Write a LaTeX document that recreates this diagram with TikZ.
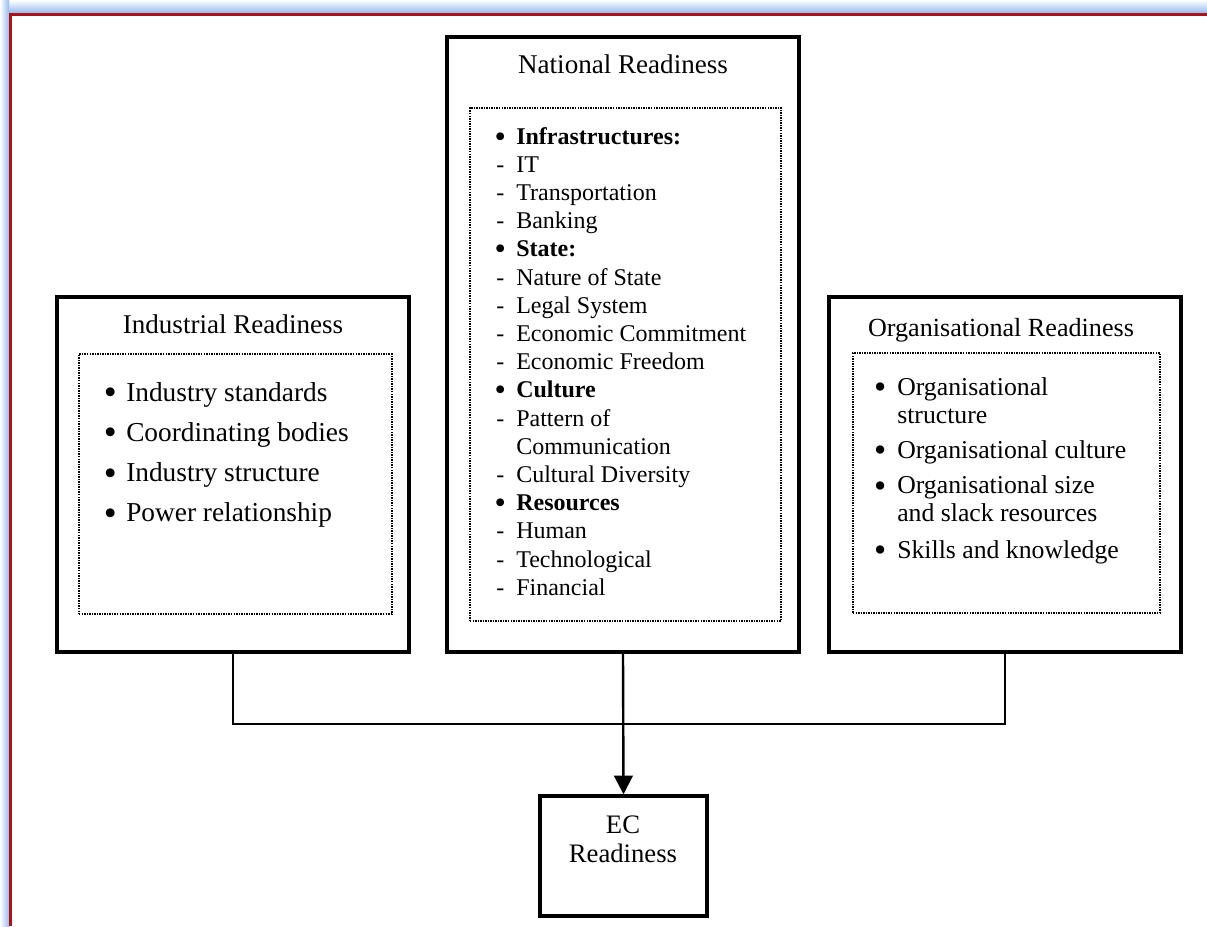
\documentclass[tikz,border=0pt]{standalone}
\usepackage{fontspec}
\setmainfont{Liberation Serif}
\usetikzlibrary{arrows.meta,shadings}

\definecolor{glowblue}{RGB}{150,185,240}
\definecolor{framered}{RGB}{170,20,25}

\tikzset{
  outerbox/.style={draw=black, line width=2.6pt, fill=white, inner sep=0pt},
  innerbox/.style={draw=black, line width=2pt, dash pattern=on 1.1pt off 0.8pt, inner sep=0pt},
  title/.style={anchor=base, inner sep=0pt, font=\fontsize{20.3}{24}\selectfont},
  listtext/.style={anchor=base west, inner sep=0pt},
  link/.style={line width=1.8pt, line join=miter},
  arrowlink/.style={link, -{Triangle[width=14pt,length=14pt]}},
}

% list markers: a bold bullet or a dash, centred in a fixed-width box
\newcommand\bigdot{\raisebox{-0.13em}{\scalebox{1.35}{\textbullet}}}
\newcommand\nmark[1]{\makebox[24pt][c]{#1}}
\newcommand\imark[1]{\makebox[24pt][c]{#1}}
\newcommand\omark[1]{\makebox[25.5pt][c]{#1}}

\begin{document}
\begin{tikzpicture}[x=0.75pt, y=-0.75pt]
  \useasboundingbox (0,0) rectangle (1207,926);
  \fill[white] (0,0) rectangle (1207,926);

  % window frame: soft blue glow and red rule along the top and left
  \shade[top color=white, bottom color=glowblue] (0,0) rectangle (1207,13);
  \shade[left color=white, right color=glowblue] (0,0) rectangle (9,926);
  \draw[framered, line width=1.9pt] (10.5,926) -- (10.5,14.5) -- (1207,14.5);

  % outer boxes
  \node[outerbox, minimum width=264pt, minimum height=461.25pt] (nat) at (623,344.5) {};
  \node[outerbox, minimum width=264pt, minimum height=266.25pt] (ind) at (233,474.5) {};
  \node[outerbox, minimum width=264pt, minimum height=266.25pt] (org) at (1005,474.5) {};
  \node[outerbox, minimum width=125.25pt, minimum height=90pt] (ec) at (623.5,856) {};

  % dotted inner frames
  \node[innerbox, minimum width=233.25pt, minimum height=384.75pt] (natin) at (625.5,364.5) {};
  \node[innerbox, minimum width=234.75pt, minimum height=195pt] (indin) at (235.5,484) {};
  \node[innerbox, minimum width=230.25pt, minimum height=195pt] (orgin) at (1006.5,483) {};

  % titles
  \node[title] (nattitle) at (623,73) {National Readiness};
  \node[title] (indtitle) at (233,333) {Industrial Readiness};
  \node[title, font=\fontsize{19.6}{24}\selectfont] (orgtitle) at (1001,336) {Organisational Readiness};
  \node[anchor=base, inner sep=0pt, font=\fontsize{20}{24}\selectfont] (ectext1) at (623,833) {EC};
  \node[anchor=base, inner sep=0pt, font=\fontsize{20}{24}\selectfont] (ectext2) at (623,862) {Readiness};

  % national list
  \node[listtext] (natlist) at (484,144) {%
    \begin{minipage}[t]{230pt}\fontsize{18}{21.15}\selectfont\parindent=0pt
      \nmark{\bigdot}\textbf{Infrastructures:}\par
      \nmark{-}IT\par
      \nmark{-}Transportation\par
      \nmark{-}Banking\par
      \nmark{\bigdot}\textbf{State:}\par
      \nmark{-}Nature of State\par
      \nmark{-}Legal System\par
      \nmark{-}Economic Commitment\par
      \nmark{-}Economic Freedom\par
      \nmark{\bigdot}\textbf{Culture}\par
      \nmark{-}Pattern of\par
      \nmark{}Communication\par
      \nmark{-}Cultural Diversity\par
      \nmark{\bigdot}\textbf{Resources}\par
      \nmark{-}Human\par
      \nmark{-}Technological\par
      \nmark{-}Financial\par
    \end{minipage}};

  % industrial list
  \node[listtext] (indlist) at (94,401) {%
    \begin{minipage}[t]{240pt}\fontsize{20.5}{30.2}\selectfont\parindent=0pt
      \imark{\bigdot}Industry standards\par
      \imark{\bigdot}Coordinating bodies\par
      \imark{\bigdot}Industry structure\par
      \imark{\bigdot}Power relationship\par
    \end{minipage}};

  % organisational list
  \node[listtext] (orglist) at (863,395) {%
    \begin{minipage}[t]{240pt}\fontsize{19.3}{21}\selectfont\parindent=0pt
      \omark{\bigdot}Organisational\par
      \omark{}structure\par\vspace{5.5pt}
      \omark{\bigdot}Organisational culture\par\vspace{5.5pt}
      \omark{\bigdot}Organisational size\par
      \omark{}and slack resources\par\vspace{6.5pt}
      \omark{\bigdot}Skills and knowledge\par
    \end{minipage}};

  % connectors
  \coordinate (bus) at (623,724);
  \draw[link] (ind.south) |- (bus) -| (org.south);
  \draw[arrowlink] (nat.south) -- (ec.north);
\end{tikzpicture}
\end{document}
